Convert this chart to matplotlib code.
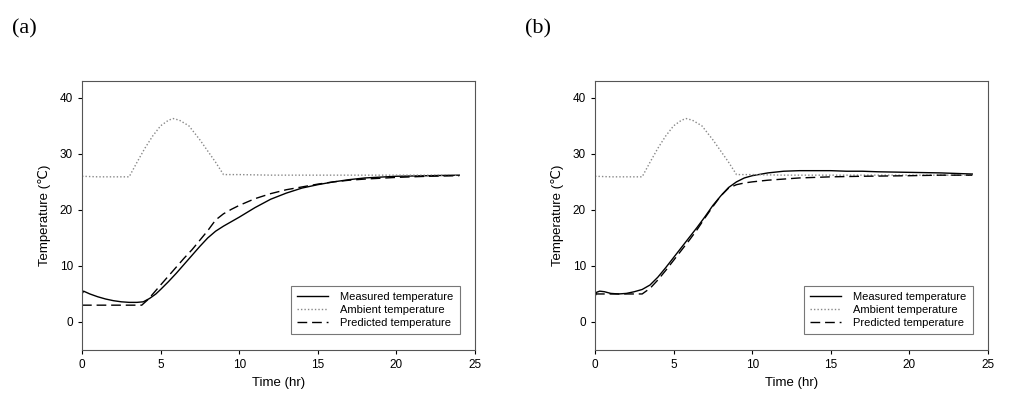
import numpy as np
import matplotlib.pyplot as plt

plt.rcParams["font.family"] = ["Liberation Sans", "DejaVu Sans"]

# ─── Data ────────────────────────────────────────────────────────────────────

amb_t = [0, 1, 2, 3, 3.5, 4, 4.5, 5, 5.5, 5.8, 6.2, 6.8, 7.5, 8, 8.5, 9, 10, 12, 15, 18, 21, 24]
amb_y = [26.0, 25.9, 25.9, 25.9, 28.5, 31.0, 33.2, 35.0, 36.0, 36.3, 36.0, 35.0, 32.5, 30.5, 28.5, 26.3, 26.3, 26.2, 26.2, 26.2, 26.2, 26.2]

a_meas_t = [0, 0.1, 0.5, 1, 1.5, 2, 2.5, 3, 3.5, 3.9, 4.3, 4.7, 5, 5.5, 6, 6.5, 7, 7.5, 8, 8.5, 9, 9.5, 10, 11, 12, 13, 14, 15, 16, 17, 18, 20, 22, 24]
a_meas_y = [5.0, 5.5, 5.0, 4.5, 4.1, 3.8, 3.6, 3.5, 3.5, 3.6, 4.2, 5.0, 5.8, 7.2, 8.7, 10.3, 11.9, 13.5, 15.0, 16.2, 17.1, 17.9, 18.7, 20.4, 21.9, 23.0, 23.9, 24.5, 25.0, 25.4, 25.7, 26.0, 26.1, 26.2]
a_pred_t = [0, 1, 2, 3, 3.8, 4.2, 4.6, 5, 5.5, 6, 6.5, 7, 7.5, 8, 8.5, 9, 9.5, 10, 11, 12, 13, 14, 15, 16, 17, 18, 20, 22, 24]
a_pred_y = [3.0, 3.0, 3.0, 3.0, 3.0, 4.0, 5.3, 6.6, 8.2, 9.8, 11.4, 12.9, 14.6, 16.3, 18.2, 19.3, 20.1, 20.8, 22.0, 22.9, 23.6, 24.1, 24.6, 25.0, 25.3, 25.5, 25.8, 26.0, 26.1]

b_meas_t = [0, 0.1, 0.3, 0.6, 1, 1.5, 2, 2.5, 3, 3.5, 4, 4.5, 5, 5.5, 6, 6.5, 7, 7.5, 8, 8.5, 9, 9.5, 10, 11, 12, 13, 14, 15, 16, 17, 18, 20, 22, 24]
b_meas_y = [4.5, 5.3, 5.5, 5.4, 5.1, 5.0, 5.1, 5.4, 5.8, 6.6, 8.0, 9.7, 11.5, 13.3, 15.1, 16.9, 18.8, 20.8, 22.5, 24.0, 25.0, 25.7, 26.1, 26.6, 26.9, 27.0, 27.0, 27.0, 26.9, 26.9, 26.8, 26.7, 26.6, 26.4]
b_pred_t = [0, 1, 2, 3, 3.5, 4, 4.5, 5, 5.5, 6, 6.5, 7, 7.5, 8, 8.5, 9, 9.5, 10, 11, 12, 13, 15, 17, 20, 22, 24]
b_pred_y = [5.0, 5.0, 5.0, 5.0, 6.0, 7.5, 9.2, 11.0, 12.8, 14.6, 16.5, 18.6, 20.6, 22.5, 23.9, 24.5, 24.8, 25.0, 25.3, 25.5, 25.7, 25.9, 26.0, 26.1, 26.2, 26.2]

panels = [
    ("(a)", a_meas_t, a_meas_y, a_pred_t, a_pred_y),
    ("(b)", b_meas_t, b_meas_y, b_pred_t, b_pred_y),
]

# ─── Figure ──────────────────────────────────────────────────────────────────

fig = plt.figure(figsize=(10.28, 4.18), dpi=100)
W, H = 1028, 418
lefts = [82, 595]

for (tag, mt, my, pt, py), left in zip(panels, lefts):
    ax = fig.add_axes([left / W, 1 - 350 / H, 393 / W, 269 / H])
    ax.plot(mt, my, color="black", lw=1.0, label="Measured temperature")
    ax.plot(amb_t, amb_y, color="#888888", lw=1.0, ls=(0, (1, 1.5)), label="Ambient temperature")
    ax.plot(pt, py, color="black", lw=1.0, ls=(0, (7, 3.5)), label="Predicted temperature")

    ax.set_xlim(0, 25)
    ax.set_ylim(-5, 43)
    ax.set_xticks([0, 5, 10, 15, 20, 25])
    ax.set_yticks([0, 10, 20, 30, 40])
    ax.tick_params(direction="out", length=3, labelsize=8.5, width=0.8, top=False, right=False)
    for s in ax.spines.values():
        s.set_linewidth(0.8)
        s.set_color("#555555")
    ax.set_xlabel("Time (hr)", fontsize=9.5, labelpad=4)
    ax.set_ylabel("Temperature (℃)", fontsize=9.5, labelpad=6)

    leg = ax.legend(loc="lower right", bbox_to_anchor=(0.975, 0.04), fontsize=8,
                    frameon=True, fancybox=False, handlelength=2.8,
                    borderpad=0.55, labelspacing=0.25, handletextpad=1.1)
    leg.get_frame().set_edgecolor("#555555")
    leg.get_frame().set_linewidth(0.8)

    fig.text((left - 70) / W, 1 - 29 / H, tag, fontsize=16, va="center", ha="left",
             family=["Liberation Serif", "DejaVu Serif"])

fig.savefig("out.png", dpi=100)
